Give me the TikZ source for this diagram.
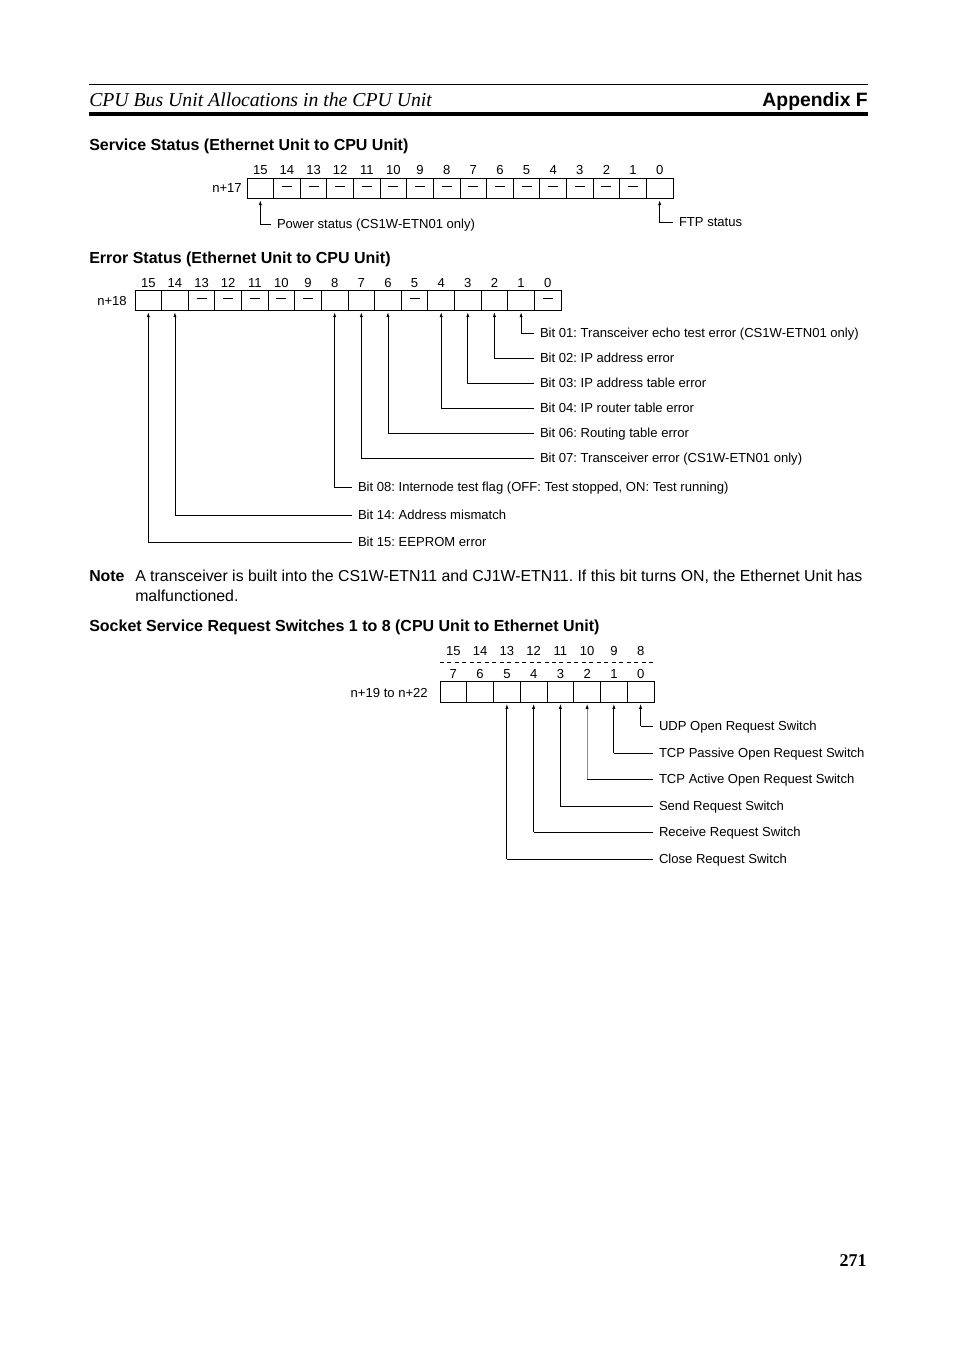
\documentclass[tikz,border=0pt]{standalone}
\usepackage{fontspec}
\setmainfont{Liberation Sans}
\newfontfamily\serifface{Liberation Serif}
\usetikzlibrary{calc,arrows.meta}
\frenchspacing

\newcommand{\lbfont}{\fontsize{9.8pt}{11pt}\selectfont}
\newcommand{\hdfont}{\fontsize{12pt}{14pt}\selectfont\bfseries}
\newcommand{\bdfont}{\fontsize{11.9pt}{14pt}\selectfont}
\newcommand{\ttlfont}{\serifface\itshape\fontsize{14.8pt}{17pt}\selectfont}
\newcommand{\appxfont}{\fontsize{14.5pt}{17pt}\selectfont\bfseries}
\newcommand{\pgnfont}{\serifface\bfseries\fontsize{13.5pt}{16pt}\selectfont}
\newcommand{\unused}{\rule{7.5pt}{0.6pt}}

\tikzset{
  cell/.style={draw,line width=0.75pt,minimum width=19.97pt,minimum height=14.6pt,inner sep=0pt,outer sep=0pt},
  bitno/.style={font=\lbfont,inner sep=0pt,text height=7pt,text depth=0pt},
  nil/.style={inner sep=0pt,text height=0.6pt,text depth=0pt},
  lab/.style={anchor=west,font=\lbfont,inner xsep=4.5pt,inner ysep=0pt,outer sep=0pt,text height=7pt,text depth=0pt},
  word/.style={anchor=east,font=\lbfont,inner sep=0pt,text height=7pt,text depth=0pt},
  head/.style={anchor=west,font=\hdfont,inner sep=0pt,text height=8.6pt,text depth=0pt},
  body/.style={anchor=west,font=\bdfont,inner sep=0pt,text height=8.6pt,text depth=0pt},
  arr/.style={-{Latex[length=3.6pt,width=2.4pt,color=black]},line width=0.6pt,shorten >=1.5pt}
}

\begin{document}
\begin{tikzpicture}[x=0.75pt,y=-0.75pt]
  \useasboundingbox (0,0) rectangle (954,1351);
  % page header
  \draw[line width=0.75pt] (89,85) -- (868,85);
  \draw[line width=3pt] (89,114.5) -- (868,114.5);
  \node[anchor=west,inner sep=0pt,font=\ttlfont,text height=9.8pt,text depth=0pt] (title) at (89,100) {CPU Bus Unit Allocations in the CPU Unit};
  \node[anchor=east,inner sep=0pt,font=\appxfont,text height=10.4pt,text depth=0pt] (appx) at (868,100) {Appendix F};

  % n+17: service status
  \node[head] (hd1) at (89,145) {Service Status (Ethernet Unit to CPU Unit)};
  \pgfmathsetmacro{\wa}{426/16}
  \foreach \b [count=\i from 0] in {15,...,0}{\node[cell] (a\b) at ({247+\wa/2+\i*\wa},188.5) {}; \node[bitno] (an\b) at ({247+\wa/2+\i*\wa},170) {\b};}
  \foreach \b in {14,...,1}{\node[nil] (ad\b) at ($(a\b)+(0,-2.5)$) {\unused};}
  \node[word] (w17) at (242,188) {n+17};
  \node[lab] (pwr) at (271,224) {Power status (CS1W-ETN01 only)};
  \node[lab] (ftp) at (673,222) {FTP status};
  \draw[arr] (pwr.west) -| (a15.south);
  \draw[arr] (ftp.west) -| (a0.south);

  % n+18: error status
  \node[head] (hd2) at (89,258) {Error Status (Ethernet Unit to CPU Unit)};
  \foreach \b [count=\i from 0] in {15,...,0}{\node[cell] (b\b) at ({135+\wa/2+\i*\wa},300.5) {}; \node[bitno] (bn\b) at ({135+\wa/2+\i*\wa},283) {\b};}
  \foreach \b in {13,12,11,10,9,5,0}{\node[nil] (bd\b) at ($(b\b)+(0,-2.5)$) {\unused};}
  \node[word] (w18) at (127,301) {n+18};
  \foreach \b/\x/\y/\t in {1/534/333/{Bit 01: Transceiver echo test error (CS1W-ETN01 only)},
      2/534/358/{Bit 02: IP address error}, 3/534/383/{Bit 03: IP address table error},
      4/534/408/{Bit 04: IP router table error}, 6/534/433/{Bit 06: Routing table error},
      7/534/458/{Bit 07: Transceiver error (CS1W-ETN01 only)},
      8/352/487/{Bit 08: Internode test flag (OFF: Test stopped, ON: Test running)},
      14/352/515/{Bit 14: Address mismatch}, 15/352/542/{Bit 15: EEPROM error}}{
    \node[lab] (e\b) at (\x,\y) {\t};
    \draw[arr] (e\b.west) -| (b\b.south);
  }

  % note
  \node[body,font=\bdfont\bfseries] (note) at (89,576) {Note};
  \node[body] (nt1) at (135,576) {A transceiver is built into the CS1W-ETN11 and CJ1W-ETN11. If this bit turns ON, the Ethernet Unit has};
  \node[body] (nt2) at (135,596) {malfunctioned.};

  % n+19 to n+22: socket service request switches
  \node[head] (hd3) at (89,626) {Socket Service Request Switches 1 to 8 (CPU Unit to Ethernet Unit)};
  \pgfmathsetmacro{\wc}{214/8}
  \foreach \b [count=\i from 0] in {7,...,0}{\node[cell,minimum width=20.06pt,minimum height=15.75pt] (c\b) at ({440+\wc/2+\i*\wc},691.5) {}; \node[bitno] (cn\b) at ({440+\wc/2+\i*\wc},674) {\b};}
  \foreach \b [count=\i from 0] in {15,...,8}{\node[bitno] (cu\b) at ({440+\wc/2+\i*\wc},651) {\b};}
  \draw[line width=0.6pt,dash pattern=on 3pt off 2.6pt] (440,662) -- (654,662);
  \node[word] (w19) at (428,693) {n+19 to n+22};
  \foreach \b/\y/\col/\t in {0/726/black/{UDP Open Request Switch}, 1/753/black/{TCP Passive Open Request Switch},
      2/779/black!45/{TCP Active Open Request Switch}, 3/806/black/{Send Request Switch},
      4/832/black/{Receive Request Switch}, 5/859/black/{Close Request Switch}}{
    \node[lab] (s\b) at (653,\y) {\t};
    \draw[line width=0.6pt] (s\b.west) -- (s\b.west -| c\b.south);
    \draw[arr,draw=\col] (s\b.west -| c\b.south) -- (c\b.south);
  }

  % page number
  \node[anchor=east,inner sep=0pt,font=\pgnfont,text height=9.1pt,text depth=0pt] (pgno) at (867,1260) {271};
\end{tikzpicture}
\end{document}
